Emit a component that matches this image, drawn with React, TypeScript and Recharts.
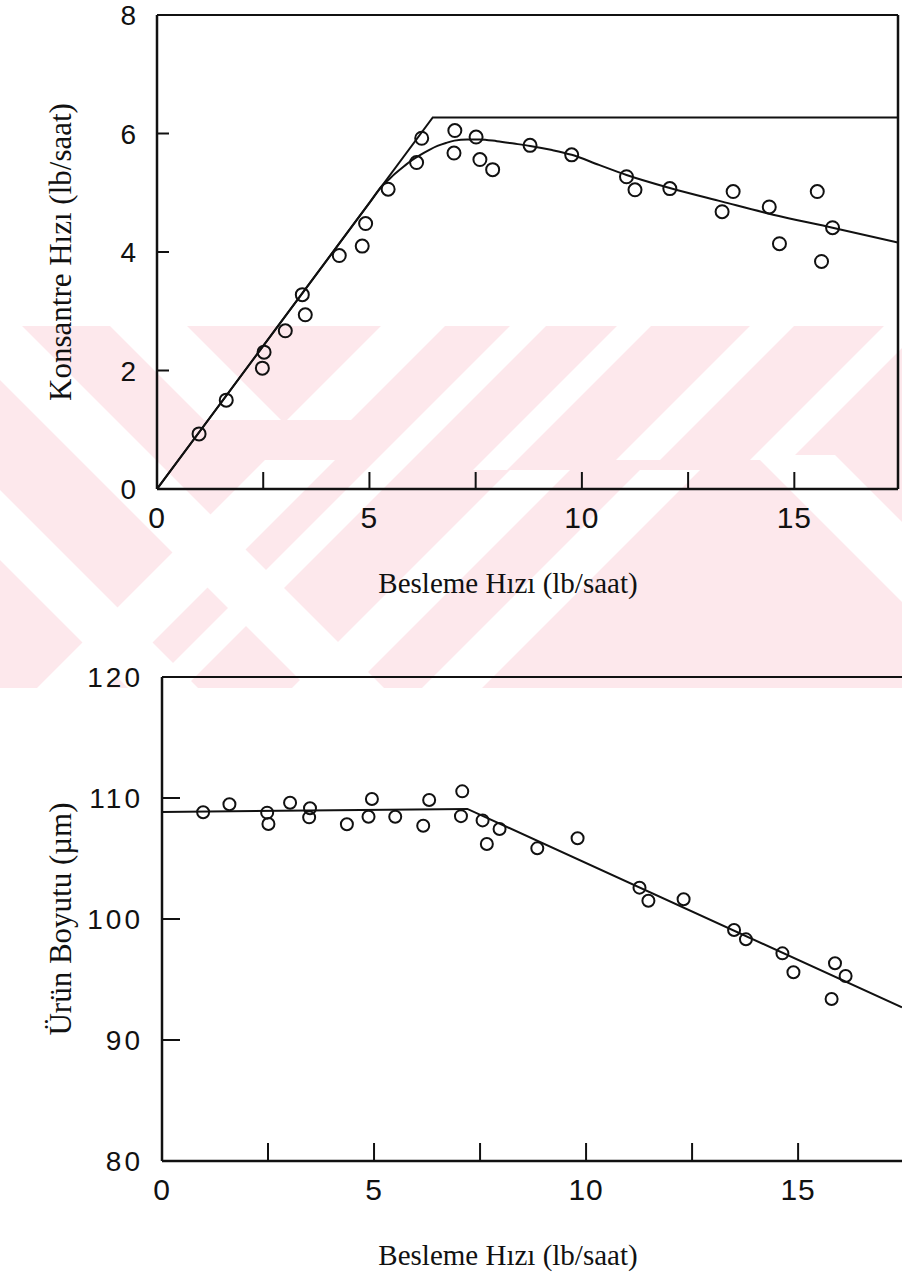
import React from 'react';
import { ComposedChart, Line, Scatter, XAxis, YAxis, ReferenceLine, Label } from 'recharts';

// ---------- Top chart data ----------
const topFeed = [0.99, 1.63, 2.52, 2.48, 3.02, 3.42, 3.49, 4.29, 4.91, 4.83, 5.44, 6.11, 6.23, 7.01, 6.99, 7.51, 7.6, 7.9, 8.78, 9.76, 11.05, 11.25, 12.07, 13.3, 13.56, 14.41, 14.65, 15.54, 15.64, 15.9];
const topConc = [0.93, 1.5, 2.31, 2.04, 2.67, 3.28, 2.94, 3.94, 4.48, 4.1, 5.06, 5.51, 5.92, 6.05, 5.67, 5.94, 5.56, 5.39, 5.8, 5.64, 5.27, 5.05, 5.07, 4.68, 5.02, 4.76, 4.14, 5.02, 3.84, 4.41];
const topKneeX = [0, 6.49, 17.44];
const topKneeY = [0, 6.27, 6.27];
const topCurveX = [0, 1, 2.5, 4, 5, 5.3, 5.45, 5.6, 5.8, 6.0, 6.2, 6.4, 6.6, 6.8, 7.0, 7.3, 7.6, 8.0, 8.4, 8.78, 9.3, 9.76, 10.4, 11.05, 12.07, 13.3, 14.5, 15.9, 17.44];
const topCurveY = [0, 0.966, 2.415, 3.864, 4.83, 5.12, 5.22, 5.32, 5.44, 5.55, 5.64, 5.72, 5.79, 5.84, 5.88, 5.9, 5.9, 5.87, 5.83, 5.79, 5.72, 5.64, 5.47, 5.3, 5.08, 4.85, 4.63, 4.41, 4.16];
const topXTicks = [0, 2.5, 5, 7.5, 10, 12.5, 15];
const topYTicks = [0, 2, 4, 6, 8];

// ---------- Bottom chart data ----------
const botFeed = [0.97, 1.59, 2.48, 2.51, 3.02, 3.49, 3.47, 4.36, 4.95, 4.87, 5.5, 6.16, 6.3, 7.08, 7.05, 7.56, 7.96, 7.66, 8.85, 9.8, 11.26, 11.47, 12.3, 13.49, 13.77, 14.63, 14.89, 15.87, 16.12, 15.79];
const botSize = [108.82, 109.48, 108.79, 107.85, 109.61, 109.15, 108.4, 107.83, 109.92, 108.45, 108.45, 107.71, 109.83, 110.55, 108.5, 108.15, 107.44, 106.2, 105.84, 106.67, 102.59, 101.51, 101.63, 99.09, 98.32, 97.16, 95.6, 96.34, 95.29, 93.39];
const botLineX = [0, 7.2, 17.45];
const botLineY = [108.85, 109.1, 92.7];
const botXTicks = [0, 2.5, 5, 7.5, 10, 12.5, 15];
const botYTicks = [80, 90, 100, 110, 120];

const labeledX = [0, 5, 10, 15];

const zip = (xs: number[], ys: number[]) => xs.map((x, i) => ({ x, y: ys[i] }));

const SANS = '"Liberation Sans", Arial, Helvetica, sans-serif';
const SERIF = '"Liberation Serif", "Times New Roman", Times, serif';
const INK = '#111';

const topPoints = zip(topFeed, topConc);
const topKnee = zip(topKneeX, topKneeY);
const topCurve = zip(topCurveX, topCurveY);
const botPoints = zip(botFeed, botSize);
const botLine = zip(botLineX, botLineY);

function makeXTick(len: number, dy: number, fontSize: number) {
  return (props: any) => {
    const { x, y, payload } = props;
    const v = payload.value;
    return (
      <g>
        {v > 0 && <line x1={x} y1={y} x2={x} y2={y - len} stroke={INK} strokeWidth={2} />}
        {labeledX.includes(v) && (
          <text x={x} y={y + dy} textAnchor="middle" fontFamily={SANS} fontSize={fontSize} letterSpacing={1} fill={INK}>
            {v}
          </text>
        )}
      </g>
    );
  };
}

function makeYTick(len: number, gap: number, fontSize: number, spacing: number, inner: number[]) {
  return (props: any) => {
    const { x, y, payload } = props;
    const v = payload.value;
    return (
      <g>
        {inner.includes(v) && <line x1={x} y1={y} x2={x + len} y2={y} stroke={INK} strokeWidth={2} />}
        <text x={x - gap} y={y + fontSize * 0.36} textAnchor="end" fontFamily={SANS} fontSize={fontSize} letterSpacing={spacing} fill={INK}>
          {v}
        </text>
      </g>
    );
  };
}

const Ring = (r: number) => (props: any) => (
  <circle cx={props.cx} cy={props.cy} r={r} fill="none" stroke={INK} strokeWidth={2} />
);

function XTitle(dx: number, dy: number) {
  return (p: any) => {
    const vb = p.viewBox;
    return (
      <text x={vb.x + dx} y={vb.y + dy} textAnchor="middle" fontFamily={SERIF} fontSize={29} fill={INK}>
        Besleme Hızı (lb/saat)
      </text>
    );
  };
}

function YTitle(text: string, cx: number) {
  return (p: any) => {
    const vb = p.viewBox;
    const cy = vb.y + vb.height / 2;
    return (
      <text x={cx} y={cy} transform={`rotate(-90 ${cx} ${cy})`} textAnchor="middle" dominantBaseline="central" fontFamily={SERIF} fontSize={31} fill={INK}>
        {text}
      </text>
    );
  };
}

// pale pink scan watermark (decorative background)
function Watermark() {
  const y0 = 326;
  const y1 = 688;
  const pink = '#fde8ec';
  const slash = (m: number, w: number, a = y0, b = y1) =>
    `${m - a},${a} ${m + w - a},${a} ${m + w - b},${b} ${m - b},${b}`;
  const back = (k: number, w: number, a = y0, b = y1) =>
    `${k + a},${a} ${k + w + a},${a} ${k + w + b},${b} ${k + b},${b}`;
  return (
    <svg width={902} height={1278} style={{ position: 'absolute', left: 0, top: 0 }}>
      <defs>
        <clipPath id="band">
          <rect x={0} y={y0} width={902} height={y1 - y0} />
        </clipPath>
      </defs>
      <g clipPath="url(#band)" fill="#fff">
        <rect x={0} y={y0} width={902} height={y1 - y0} fill={pink} />
        {/* upper-left V */}
        <polygon points={back(-216, 77, y0, 420)} />
        <polygon points={slash(707, 64, y0, 420)} />
        <polygon points={back(-380, 76)} />
        <polygon points={back(-560, 70)} />
        {/* lower-left / centre */}
        <polygon points={slash(725, 70, 460, y1)} />
        <polygon points={slash(836, 36)} />
        <polygon points={slash(980, 60, 470, y1)} />
        <polygon points={slash(1110, 60, 470, y1)} />
        {/* upper-right */}
        <polygon points={slash(943, 34, y0, 470)} />
        <polygon points={slash(1076, 44, y0, 460)} />
        <polygon points={slash(1210, 40, y0, 460)} />
        {/* lower-right */}
        <polygon points={back(300, 80, 455, y1)} />
        <polygon points={back(470, 60, 455, y1)} />
      </g>
    </svg>
  );
}

export default function App() {
  return (
    <div style={{ position: 'absolute', left: 0, top: 0, width: 902, height: 1278, background: '#fff', overflow: 'hidden' }}>
      <Watermark />
      <div style={{ position: 'absolute', left: 0, top: 0 }}>
        <ComposedChart width={902} height={620} margin={{ top: 15, right: 4, bottom: 0, left: 0 }}>
          <XAxis
            type="number"
            dataKey="x"
            domain={[0, 17.44]}
            allowDataOverflow
            ticks={topXTicks}
            interval={0}
            height={131}
            tickSize={0}
            tickMargin={0}
            tickLine={false}
            axisLine={{ stroke: INK, strokeWidth: 2.5 }}
            tick={makeXTick(17, 39, 30)}
          >
            <Label content={XTitle(351, 104)} />
          </XAxis>
          <YAxis
            type="number"
            dataKey="y"
            domain={[0, 8]}
            allowDataOverflow
            ticks={topYTicks}
            interval={0}
            width={157}
            tickSize={0}
            tickMargin={0}
            tickLine={false}
            axisLine={{ stroke: INK, strokeWidth: 2.5 }}
            tick={makeYTick(12, 21, 28, 0, [2, 4, 6])}
          >
            <Label content={YTitle('Konsantre Hızı (lb/saat)', 60)} />
          </YAxis>
          <ReferenceLine y={8} stroke={INK} strokeWidth={2} />
          <ReferenceLine x={17.44} stroke={INK} strokeWidth={2.5} />
          <Line data={topKnee} dataKey="y" type="linear" stroke={INK} strokeWidth={2} dot={false} isAnimationActive={false} />
          <Line data={topCurve} dataKey="y" type="monotone" stroke={INK} strokeWidth={2} dot={false} isAnimationActive={false} />
          <Scatter data={topPoints} dataKey="y" shape={Ring(6.5)} isAnimationActive={false} />
        </ComposedChart>
      </div>
      <div style={{ position: 'absolute', left: 0, top: 620 }}>
        <ComposedChart width={902} height={658} margin={{ top: 57, right: 0, bottom: 0, left: 0 }}>
          <XAxis
            type="number"
            dataKey="x"
            domain={[0, 17.45]}
            allowDataOverflow
            ticks={botXTicks}
            interval={0}
            height={117}
            tickSize={0}
            tickMargin={0}
            tickLine={false}
            axisLine={{ stroke: INK, strokeWidth: 2.5 }}
            tick={makeXTick(18, 39, 30)}
          >
            <Label content={XTitle(346, 104)} />
          </XAxis>
          <YAxis
            type="number"
            dataKey="y"
            domain={[80, 120]}
            allowDataOverflow
            ticks={botYTicks}
            interval={0}
            width={162}
            tickSize={0}
            tickMargin={0}
            tickLine={false}
            axisLine={{ stroke: INK, strokeWidth: 2.5 }}
            tick={makeYTick(18, 19, 28, 3, [90, 100, 110])}
          >
            <Label content={YTitle('Ürün Boyutu (µm)', 60)} />
          </YAxis>
          <ReferenceLine y={120} stroke={INK} strokeWidth={2} />
          <Line data={botLine} dataKey="y" type="linear" stroke={INK} strokeWidth={2} dot={false} isAnimationActive={false} />
          <Scatter data={botPoints} dataKey="y" shape={Ring(6)} isAnimationActive={false} />
        </ComposedChart>
      </div>
    </div>
  );
}
